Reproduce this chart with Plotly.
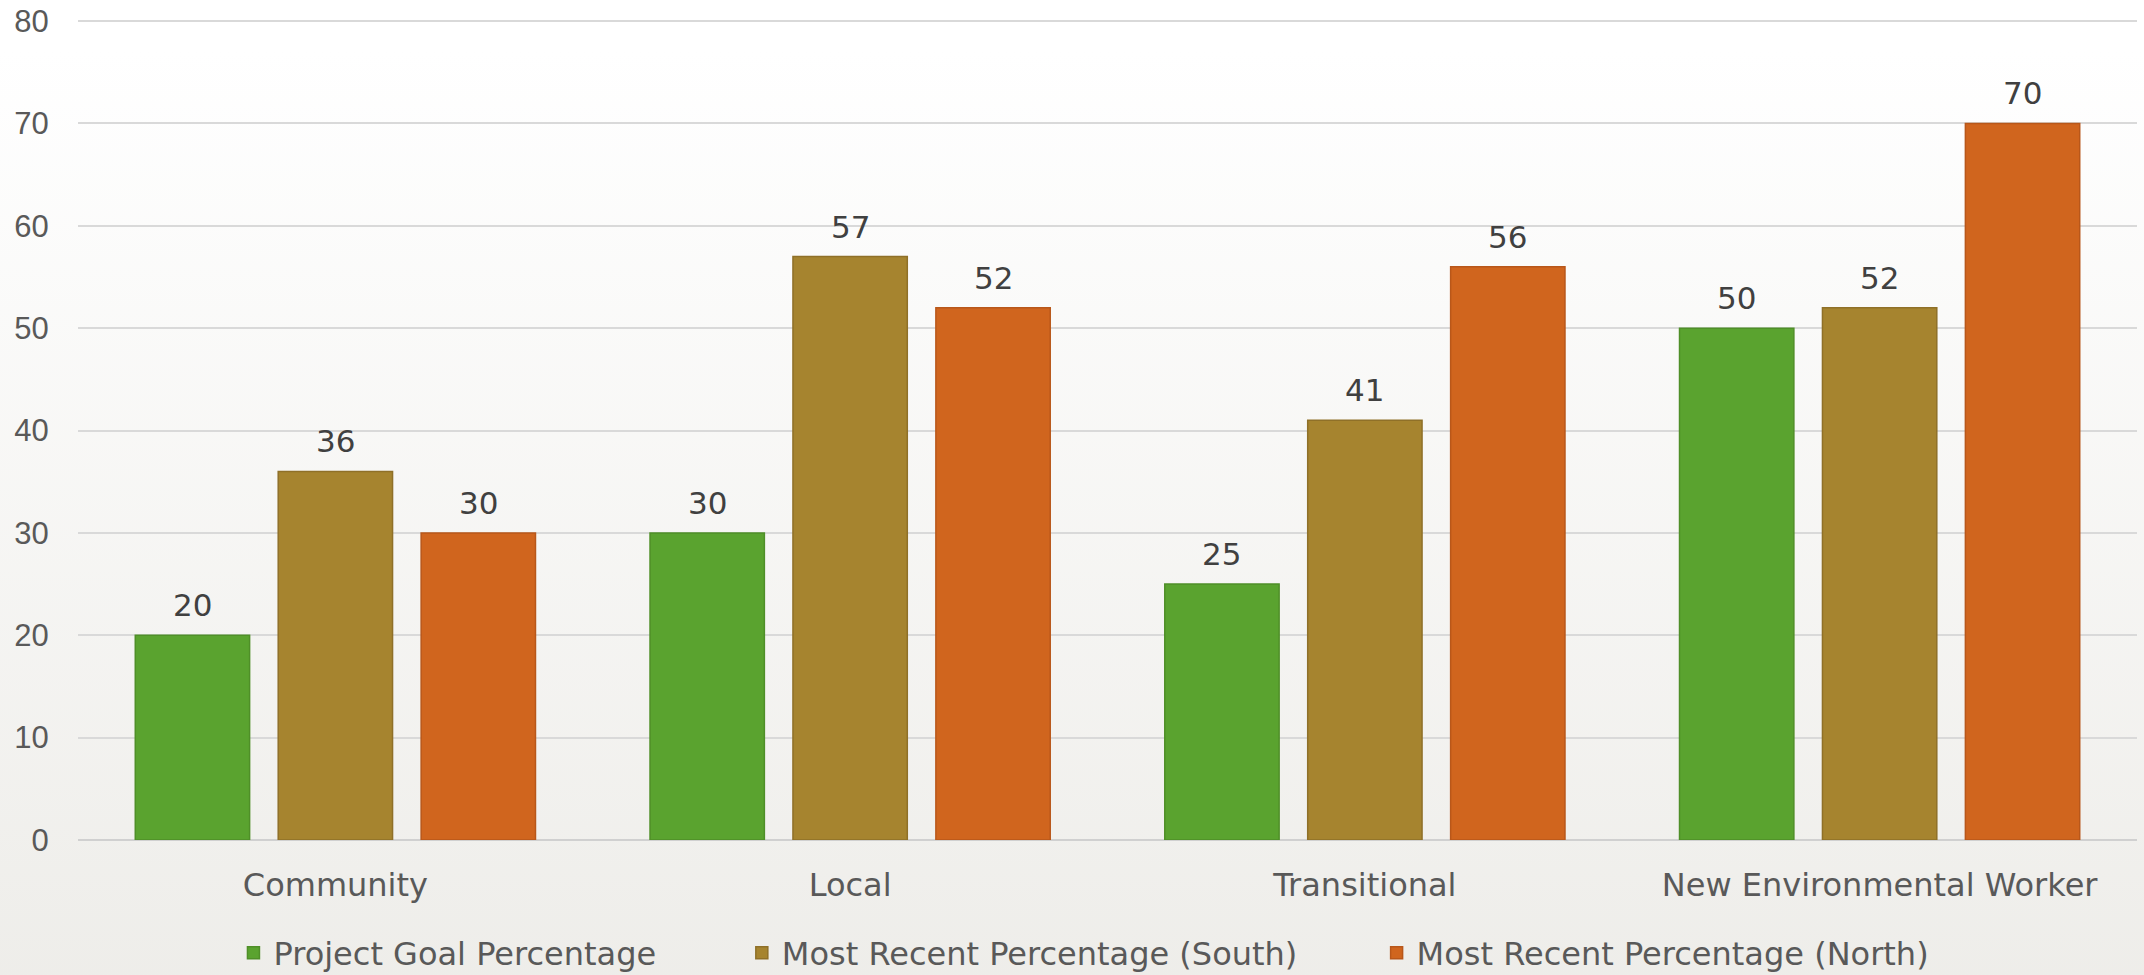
import base64
import plotly.graph_objects as go

categories = ["Community", "Local", "Transitional", "New Environmental Worker"]
series_names = ["Project Goal Percentage", "Most Recent Percentage (South)", "Most Recent Percentage (North)"]
goal = [20, 30, 25, 50]
south = [36, 57, 41, 52]
north = [30, 52, 56, 70]
y_ticks = [0, 10, 20, 30, 40, 50, 60, 70, 80]

colors = ["#5aa32f", "#a6842f", "#d0651e"]
edge = ["#4f8f28", "#8f7028", "#b8571a"]
legend_ids = ["legend", "legend2", "legend3"]
legend_x = [0.0755, 0.3224, 0.6307]

BARGAP = 0.167
slot = (1 - BARGAP) / 3

fig = go.Figure()
annotations = []
for k, (name, vals, c, e, lid) in enumerate(zip(series_names, [goal, south, north], colors, edge, legend_ids)):
    fig.add_trace(go.Bar(
        x=categories, y=vals, name=name, legend=lid,
        marker=dict(color=c, line=dict(color=e, width=1.5)),
    ))
    for i, v in enumerate(vals):
        annotations.append(dict(
            x=i + (k - 1) * slot, y=v, xref="x", yref="y", text=str(v), showarrow=False,
            yanchor="bottom", yshift=10,
            font=dict(size=31, color="#404040", family="DejaVu Sans"),
        ))

svg = ('<svg xmlns="http://www.w3.org/2000/svg" width="100" height="100" preserveAspectRatio="none">'
       '<defs><linearGradient id="g" x1="0" y1="0" x2="0" y2="1">'
       '<stop offset="0" stop-color="#ffffff"/><stop offset="0.1" stop-color="#ffffff"/>'
       '<stop offset="1" stop-color="#ecebe7"/></linearGradient></defs>'
       '<rect width="100" height="100" fill="url(#g)"/></svg>')
src = "data:image/svg+xml;base64," + base64.b64encode(svg.encode()).decode()

legend_common = dict(orientation="h", xanchor="left", yref="container", y=0.0226, yanchor="middle",
                     font=dict(size=32, color="#595959", family="DejaVu Sans"),
                     itemwidth=30, bgcolor="rgba(0,0,0,0)")

fig.update_layout(
    width=2144, height=975,
    margin=dict(l=78, r=7, t=18, b=135, autoexpand=False),
    paper_bgcolor="#f3f2ef",
    plot_bgcolor="rgba(0,0,0,0)",
    barmode="group", bargap=BARGAP, bargroupgap=0.2,
    font=dict(family="DejaVu Sans", size=32, color="#595959"),
    showlegend=True,
    legend=dict(x=legend_x[0], **legend_common),
    legend2=dict(x=legend_x[1], **legend_common),
    legend3=dict(x=legend_x[2], **legend_common),
    annotations=annotations,
    images=[dict(source=src, xref="paper", yref="paper", x=-0.2, y=1.1,
                 sizex=1.4, sizey=1.4, sizing="stretch", layer="below",
                 xanchor="left", yanchor="top")],
)
fig.update_yaxes(range=[0, 80.3], tickvals=y_ticks, showgrid=True, gridcolor="#d9d9d9", gridwidth=2,
                 zeroline=True, zerolinecolor="#d0d0d0", zerolinewidth=2,
                 ticks="outside", ticklen=22, tickcolor="rgba(0,0,0,0)", automargin=False,
                 tickfont=dict(size=31, color="#595959", family="Liberation Sans"), showline=False)
fig.update_xaxes(ticks="outside", ticklen=17, tickcolor="rgba(0,0,0,0)", automargin=False,
                 tickfont=dict(size=32, color="#595959", family="DejaVu Sans"), showline=False)

fig.write_html("out.html", config={"displayModeBar": False},
               post_script="document.body.style.margin='0';")
